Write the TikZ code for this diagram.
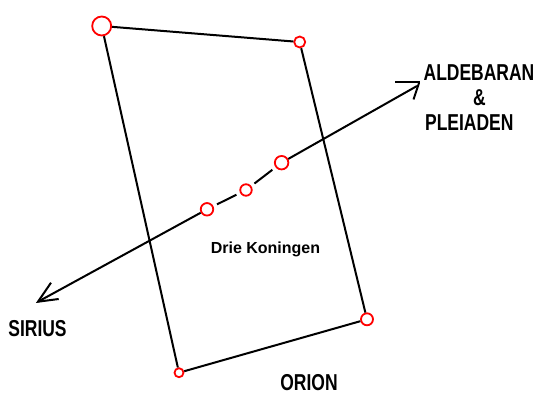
\documentclass[tikz,border=0pt]{standalone}
\usepackage{fontspec}
\newfontfamily\labfont[FakeStretch=0.76]{Liberation Sans}
\newfontfamily\smlfont{Liberation Sans}
\begin{document}
\begin{tikzpicture}[x=1pt,y=-1pt,
  star/.style={circle,draw=red,line width=1.8pt,inner sep=0pt},
  edge/.style={draw=black,line width=2pt},
  gap/.style={edge,shorten <=4pt,shorten >=4pt},
  biglab/.style={font=\labfont\bfseries\fontsize{23}{23}\selectfont,anchor=base,inner sep=0pt},
  smllab/.style={font=\smlfont\bfseries\fontsize{16}{16}\selectfont,anchor=base,inner sep=0pt}]
\useasboundingbox (0,0) rectangle (535,395);
% stars
\node[star,minimum size=19pt] (bet) at (101.7,26) {};
\node[star,minimum size=11pt] (bel) at (299.7,42) {};
\node[star,minimum size=12pt] (sai) at (367,319.3) {};
\node[star,minimum size=9pt] (bl) at (179,372.7) {};
\node[star,minimum size=12.5pt] (b1) at (207,209.3) {};
\node[star,minimum size=11.5pt] (b2) at (246,190) {};
\node[star,minimum size=13.5pt] (b3) at (281.6,162.7) {};
% rectangle of Orion
\draw[edge] (bet) -- (bel);
\draw[edge] (bet) -- (bl);
\draw[edge] (bel) -- (sai);
\draw[edge] (bl) -- (sai);
% line through the belt
\coordinate (stip) at (38,301.7);
\coordinate (atip) at (417,86);
\draw[edge] (b1) -- (stip);
\draw[gap] (b1) -- (b2);
\draw[gap] (b2) -- (b3);
\draw[edge] (b3) -- (atip);
% hand-drawn arrowheads
\coordinate (sh1) at (51,282.7);
\coordinate (sh2) at (58.7,299);
\draw[edge] (sh1) -- (stip) -- (sh2);
\coordinate (ab1) at (395,82);
\coordinate (ab2) at (420,82);
\coordinate (as1) at (419,83);
\coordinate (as2) at (413.5,99.5);
\draw[edge] (ab1) -- (ab2);
\draw[edge] (as1) -- (as2);
% labels
\node[biglab] (ald) at (479,81) {ALDEBARAN};
\node[biglab] (amp) at (479.5,105.5) {\&};
\node[biglab] (ple) at (469.3,130.5) {PLEIADEN};
\node[biglab] (sir) at (37.5,336) {SIRIUS};
\node[biglab] (ori) at (309,390) {ORION};
\node[smllab] (drie) at (265.5,253.5) {Drie Koningen};
\end{tikzpicture}
\end{document}
